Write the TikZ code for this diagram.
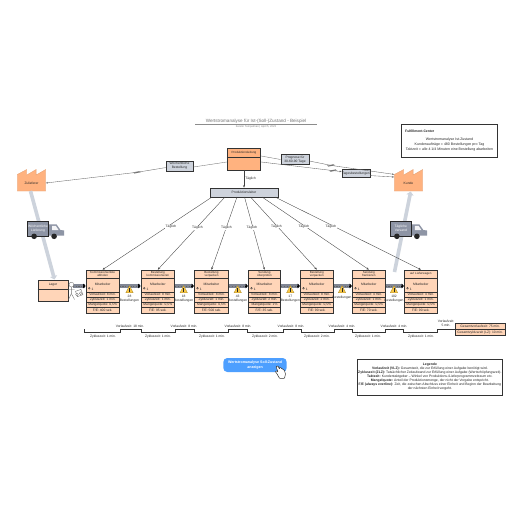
\documentclass[tikz,border=0pt]{standalone}
\usepackage{fontspec}
\setmainfont{Liberation Sans}
\usetikzlibrary{arrows.meta,calc}
\definecolor{orangeA}{HTML}{FFB27F}
\definecolor{peachA}{HTML}{FFD5B8}
\definecolor{grayBox}{HTML}{CED3DC}
\definecolor{stroke}{HTML}{333333}
\definecolor{truckG}{HTML}{8E95A5}
\definecolor{thickA}{HTML}{CDD3DC}
\definecolor{btn}{HTML}{4D9FFF}
\definecolor{warn}{HTML}{F9C846}
\newcommand{\fs}{\fontsize{3.3}{3.9}\selectfont}
\tikzset{
  txt/.style={font=\fs,inner sep=0pt,align=center,text=black!85},
  boxA/.style={draw=stroke,line width=.8pt,inner sep=0pt,align=center,font=\fs,text=black!85},
  infobox/.style={boxA,fill=grayBox},
  info/.style={draw=black!60,line width=.35pt,-{Stealth[length=2pt,width=1.6pt]}},
  infoplain/.style={draw=black!55,line width=.35pt},
  sched/.style={draw=black!75,line width=.35pt,-{Stealth[length=2.4pt,width=2pt]}},
  fat/.style={draw=thickA,line width=3.6pt,-{Triangle[length=3.5pt,width=7pt]}},
  rowline/.style={draw=stroke,line width=.8pt},
  timeline/.style={draw=stroke,line width=.7pt},
}
% name, x1, x2, title, operator, r1..r4
\newcommand{\procbox}[9]{%
  \node[boxA,fill=peachA,minimum width={#3pt-#2pt},minimum height=43pt] (#1) at ({(#2+#3)/2},291.5) {};
  \draw[rowline] (#2,278.2)--(#3,278.2) (#2,292)--(#3,292) (#2,297)--(#3,297) (#2,302.3)--(#3,302.3) (#2,307.6)--(#3,307.6);
  \node[txt,font=\fontsize{3}{3.4}\selectfont,text width={#3pt-#2pt}] at ({(#2+#3)/2},274.2) {#4};
  \node[txt] at ({(#2+#3)/2},284.5) {Mitarbeiter};
  \draw[black!80,line width=.3pt] ({#2+3.2},288.2) circle (.9pt);
  \node[txt,anchor=west] at ({#2+5.3},289.4) {#5};
  \node[txt] at ({(#2+#3)/2},294.6) {#6};
  \node[txt] at ({(#2+#3)/2},299.7) {#7};
  \node[txt] at ({(#2+#3)/2},305) {#8};
  \node[txt] at ({(#2+#3)/2},310.3) {#9};
}
% bar between two named nodes
\newcommand{\pushbar}[2]{%
  \fill[truckG!90!black] (#1 |- yb) ++(0,-1.6) rectangle ($(#2 |- yb)+(-1,1.6)$);
  \draw[black!60,line width=.8pt,dash pattern=on 1.1pt off 1.6pt] (#1 |- yb) -- ($(#2 |- yb)+(-2,0)$);
  \draw[stroke,line width=.5pt,-{Triangle[length=2.4pt,width=4.4pt]}] ($(#2 |- yb)+(-2.5,0)$) -- (#2 |- yb);
}
% factory: name, x left, label
\newcommand{\factory}[3]{%
  \fill[orangeA,draw=orangeA!90!black,line width=.3pt] (#2,174.5)--(#2+9.4,169.5)--(#2+9.4,175)--(#2+18.8,169.5)--(#2+18.8,175)--(#2+28.4,169.5)--(#2+28.4,191)--(#2,191)--cycle;
  \node[txt,minimum width=28.4pt,minimum height=12pt] (#1) at (#2+14.2,183.5) {#3};
}
% truck: name, x left, text
\newcommand{\truck}[3]{%
  \fill[truckG] (#2+21,224.3)--(#2+29,224.3)--(#2+33,230)--(#2+36.7,230.5)--(#2+36.7,235.5)--(#2+21,235.5)--cycle;
  \fill[white!90!truckG] (#2+24.5,225.8)--(#2+28.3,225.8)--(#2+31,230)--(#2+24.5,230)--cycle;
  \node[boxA,draw=black!85,fill=truckG,text=white,minimum width=21pt,minimum height=14.8pt,text width=20pt] (#1) at (#2+10.5,228.7) {#3};
  \fill[black!85] (#2+6.6,236.3) circle (2.8pt) (#2+26.6,236.3) circle (2.8pt);
}
\newcommand{\ltn}[1]{ % zigzag glyph centred at a point
  \draw[infoplain,line width=.3pt] ($(#1)+(-4,.3)$)--($(#1)+(3,-1.1)$)--($(#1)+(-3,1.1)$)--($(#1)+(4,-.3)$);
}
\begin{document}
\begin{tikzpicture}[x=1pt,y=-1pt]
\useasboundingbox (0,0) rectangle (516,516);
\fill[white] (0,0) rectangle (516,516);

% title
\node[txt,font=\fontsize{4.6}{5}\selectfont,text=black!55] (title) at (256,121) {Wertstromanalyse für Ist-(Soll-)Zustand - Beispiel};
\draw[black!45,line width=.5pt] (195,124.3)--(317,124.3);
\node[txt,font=\fontsize{2.7}{3}\selectfont,text=black!50] (sub) at (256,127.3) {Kerstin Tempelman | April 5, 2023};

% nodes top
\node[boxA,fill=orangeA,minimum width=33.4pt,minimum height=22pt] (prod) at (244,159) {};
\draw[rowline] (prod.west |- 0,157)--(prod.east |- 0,157);
\node[txt,font=\fontsize{3}{3.5}\selectfont] at (244,152.6) {Produktionsleitung};
\node[infobox,minimum width=68pt,minimum height=9pt] (plan) at (244,192.5) {Produktionsleiter};
\node[infobox,minimum width=27pt,minimum height=10pt] (week) at (179.5,166) {Wöchentliche\\Bestellung};
\node[infobox,minimum width=28pt,minimum height=9.5pt] (prog) at (295,159.6) {Prognose für\\30-60-90 Tage};
\node[infobox,minimum width=28pt,minimum height=8.5pt] (tag) at (356,173.5) {Tagesbestellungen};

% factories
\factory{sup}{17.3}{Zulieferer}
\factory{cust}{394.3}{Kunde}

% Lager
\node[boxA,fill=peachA,minimum width=30pt,minimum height=21pt] (lager) at (53,290.5) {};
\draw[rowline] (lager.west |- 0,289)--(lager.east |- 0,289);
\node[txt] at (53,284.6) {Lager};

% processes
\procbox{p1}{86}{119.3}{Kommissionierliste\\abholen}{1}{Vorlaufzeit: 8 min.}{Zykluszeit: 1 min.}{Mangelquote: 0,5\%}{F/E: 400 sek.}
\procbox{p2}{141}{174.7}{Bestellung\\kommissionieren}{1}{Vorlaufzeit: 8 min.}{Zykluszeit: 1 min.}{Mangelquote: 0,5\%}{F/E: 95 sek.}
\procbox{p3}{194.3}{228.7}{Bestellung\\verpacken}{1}{Vorlaufzeit: 8 min.}{Zykluszeit: 1 min.}{Mangelquote: 0,5\%}{F/E: 500 sek.}
\procbox{p4}{248.3}{280.7}{Sendung\\überprüfen}{1}{Vorlaufzeit: 8 min.}{Zykluszeit: 2 min.}{Mangelquote: 1\%}{F/E: 35 sek.}
\procbox{p5}{300.3}{333.3}{Bestellung\\verpacken}{1}{Vorlaufzeit: 8 min.}{Zykluszeit: 2 min.}{Mangelquote: 0,5\%}{F/E: 90 sek.}
\procbox{p6}{352.3}{385.3}{Sendung\\frankieren}{1}{Vorlaufzeit: 4 min.}{Zykluszeit: 1 min.}{Mangelquote: 0,5\%}{F/E: 70 sek.}
\procbox{p7}{404.3}{437.3}{auf Lieferwagen}{1}{Vorlaufzeit: 4 min.}{Zykluszeit: 1 min.}{Mangelquote: 0,5\%}{F/E: 90 sek.}

% coordinates
\coordinate (yb) at (0,286);
\coordinate (fatS) at (30.5,191);
\coordinate (fatE) at (54.5,279.5);
\coordinate (fatS2) at (394.5,272);
\coordinate (fatE2) at (410.7,191.5);

% thick arrows, trucks over them
\draw[fat] (fatS)--(fatE);
\draw[fat] (fatS2)--(fatE2);
\truck{t1}{27.5}{Wöchentliche\\Lieferung}
\truck{t2}{390.3}{Tägliche\\Versand}

% info flows
\draw[sched,line width=.5pt] (prod)--(plan) node[midway,right=1pt,txt] (dl) {Täglich};
\draw[infoplain] (prod.west |- 0,162)--(week.east |- 0,167);
\draw[infoplain] (prod.east |- 0,156)--(prog.west |- 0,159.5);
\coordinate (z1) at (137,172.3);
\coordinate (z2) at (331,165.4);
\coordinate (z3) at (333,170.6);
\draw[info] (week.west |- 0,167.6)--(z1)--(sup.east |- 0,183);
\ltn{z1}
\draw[info] (prog.east |- 0,161)--(z2)--(cust.west |- 0,174.4);
\ltn{z2}
\draw[info] (prod.east |- 0,162)--(z3)--(tag.west |- 0,171.6);
\ltn{z3}
\draw[info] (tag.east |- 0,175.6)--(cust.west |- 0,177);

% schedule lines
\foreach \sx/\t/\lx/\ly in {212/p1/171/227,225/p2/197.5/228,237/p3/226.5/228,244.5/p4/252/228,250.5/p5/276.5/226.5,262/p6/304/226.5,275/p7/331/226.5}{
  \draw[sched] (\sx,197) -- (\t.north);
  \node[txt,fill=white,inner sep=.3pt] at (\lx,\ly) {Täglich};
}

% push bars
\pushbar{p1.east}{p2.west}
\pushbar{p2.east}{p3.west}
\pushbar{p3.east}{p4.west}
\pushbar{p4.east}{p5.west}
\pushbar{p5.east}{p6.west}
\pushbar{p6.east}{p7.west}
\coordinate (bar0) at (73,286);
\pushbar{bar0}{p1.west}

% go-see figure
\draw[black!55,line width=.35pt,fill=white] (71.4,284.6) circle (2.4pt);
\draw[black!55,line width=.35pt] (71.4,287)--(71.4,293.5) (71.4,293.5)--(68.5,299.5) (71.4,293.5)--(74.5,299.5) (68.3,289.5)--(74.5,289.5);
\draw[black!55,line width=.4pt,fill=white,rotate around={20:(79.2,293)}] (76.3,290.2) rectangle (82.1,295.8);
\draw[black!55,line width=.3pt,fill=white] (77,294.5) circle (1.4pt) (80.8,293.2) circle (1.4pt);

% inventory
\foreach \n/\x in {i1/129.5,i2/183.7,i3/237.7,i4/290.3,i5/342,i6/394}{
  \fill[warn,draw=warn!70!black,line width=.3pt] (\x-3.7,292.8)--(\x,285.6)--(\x+3.7,292.8)--cycle;
  \fill[black!85] (\x-.35,287.6) rectangle (\x+.35,291.9);
}
\foreach \x/\l in {129.5/28,183.7/18,237.7/43,290.3/17,394/102}{
  \node[txt] at (\x,298.5) {\l\\Bestellungen};
}
\node[txt] at (342,297.7) {Bestellungen};

% timeline
\draw[timeline] (84.3,329)--(84.3,332.3)--(120.7,332.3)--(120.7,329)--(141.3,329)--(141.3,332.3)--(175.3,332.3)--(175.3,329)--(194.3,329)--(194.3,332.3)--(228.3,332.3)--(228.3,329)--(247.3,329)--(247.3,332.3)--(283.3,332.3)--(283.3,329)--(301,329)--(301,332.3)--(334.3,332.3)--(334.3,329)--(352.7,329)--(352.7,332.3)--(385.7,332.3)--(385.7,329)--(403.3,329)--(403.3,332.3)--(437.3,332.3)--(437.3,329)--(455.3,329);
\foreach \x/\t in {130/18,184/8,238/8,291/8,342/4,394/4}{
  \node[txt] at (\x,326) {Vorlaufzeit: \t\ min.};
}
\node[txt] at (446,323.5) {Vorlaufzeit:\\5 min.};
\foreach \x/\t in {103/1,158/1,212/1,265/2,317/2,368/1,421/1}{
  \node[txt] at (\x,336.3) {Zykluszeit: \t\ min.};
}

% summary
\node[boxA,fill=peachA,minimum width=49.7pt,minimum height=11.7pt] (sum) at (480.2,329.3) {};
\draw[rowline] (sum.west)--(sum.east);
\node[txt] at (480.2,326.4) {Gesamtvorlaufzeit: 75 min.};
\node[txt] at (480.2,332.2) {Gesamtzykluszeit (LZ): 10 min.};

% fulfilment box
\node[boxA,fill=white,minimum width=96pt,minimum height=33pt] (ful) at (449.3,140.5) {};
\node[txt,font=\fontsize{3.4}{3.9}\bfseries,anchor=west] at (405,131) {Fulfillment-Center};
\node[txt,font=\fontsize{3.55}{5}\selectfont] at (449.5,145) {Wertstromanalyse Ist-Zustand\\Kundenaufträge = 480 Bestellungen pro Tag\\Taktzeit = alle 4 1/4 Minuten eine Bestellung abarbeiten};

% legend
\node[boxA,fill=white,minimum width=145.7pt,minimum height=36pt] (leg) at (429.9,377) {};
\node[txt,font=\fontsize{3.4}{4}\selectfont] at (429.9,377) {\textbf{Legende}\\\textbf{Vorlaufzeit (VLZ):} Gesamtzeit, die zur Erfüllung einer Aufgabe benötigt wird.\\\textbf{Zykluszeit (ZLZ):} Tatsächlicher Zeitaufwand zur Erfüllung einer Aufgabe (Wertschöpfungszeit).\\\textbf{Taktzeit:} Kundentaktgeber -- Winkel von Produktions-/Lieferprogrammzeitraum etc.\\\textbf{Mangelquote:} Anteil der Produktionsmenge, der nicht der Vorgabe entspricht.\\\textbf{F/E (always everline):} Zeit, die zwischen Abschluss einer Einheit und Beginn der Bearbeitung\\der nächsten Einheit vergeht.};

% button
\node[fill=btn,rounded corners=4pt,minimum width=63.4pt,minimum height=14pt,inner sep=0pt,align=center,text=white,font=\fontsize{3.6}{4.6}\bfseries] (btnA) at (255,365) {Wertstromanalyse Soll-Zustand\\anzeigen};
% hand
\draw[black!80,fill=white,line width=.5pt,rounded corners=.5pt] (276,366.5)--(278,366)--(279.5,369)--(279.6,367.5)--(281,367.5)--(281.4,368.8)--(282.6,368.6)--(283,369.8)--(284.2,369.8)--(285.5,374)--(284.5,378.3)--(279.5,378.3)--(276.8,373.5)--(275.3,371.5)--(276.5,370.8)--(278,372)--cycle;
\end{tikzpicture}
\end{document}
